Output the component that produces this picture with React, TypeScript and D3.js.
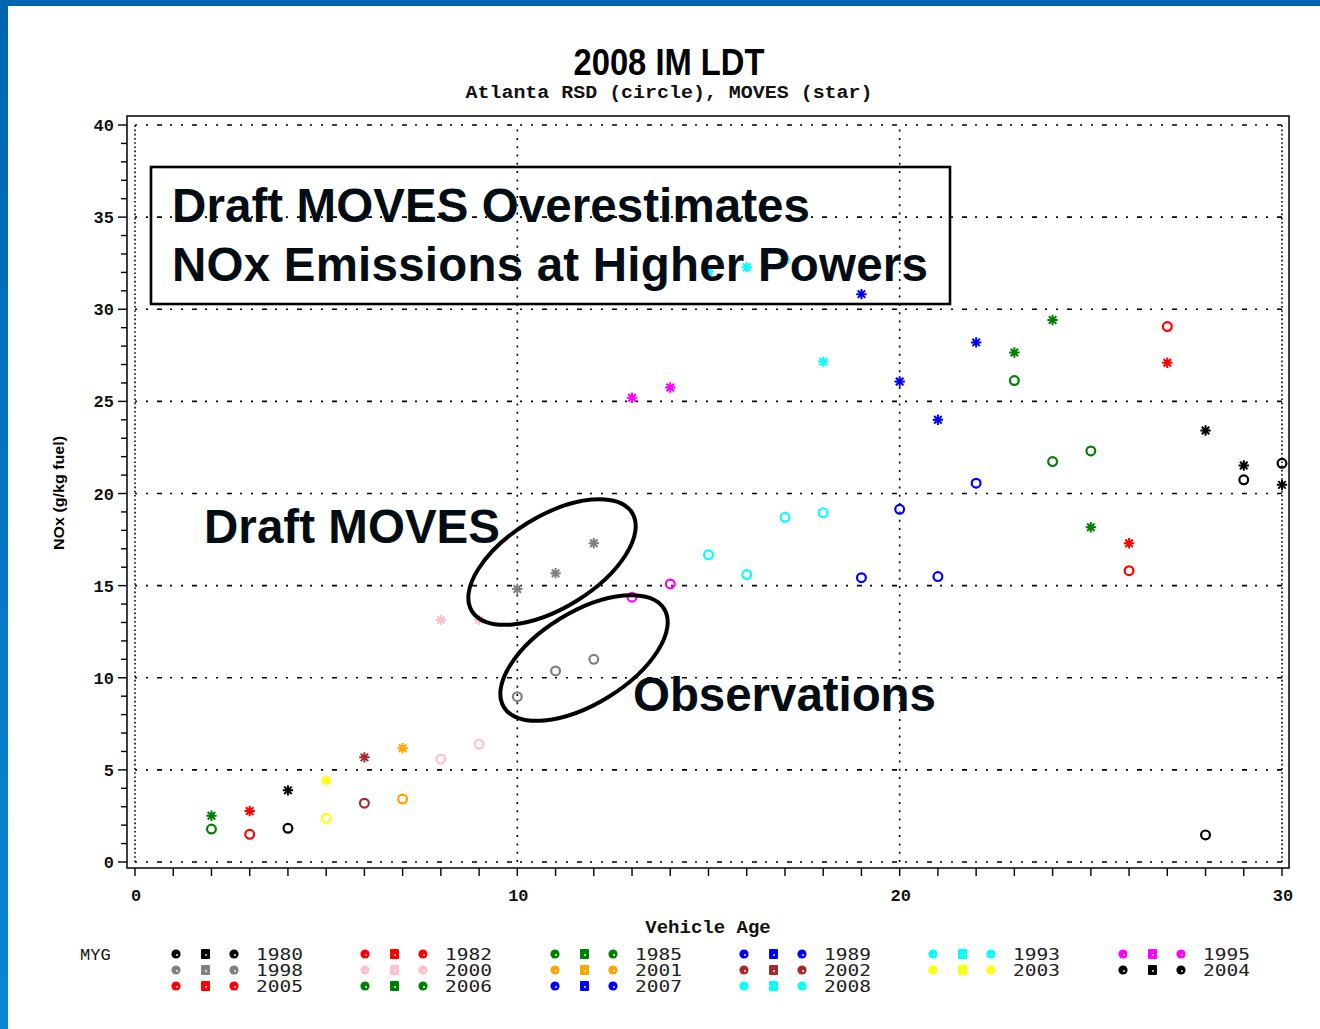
import React from 'react'
import * as d3 from 'd3'

// vehicle age (x)
const ages = [2, 3, 4, 5, 6, 7, 8, 9, 10, 11, 12, 13, 14, 15, 16, 17, 18, 19, 20, 21, 22, 23, 24, 25, 26, 27, 28, 29, 30]
// model year group of each age (2008 - age, grouped)
const ageGroups = [2006, 2005, 2004, 2003, 2002, 2001, 2000, 2000, 1998, 1998, 1998, 1995, 1995, 1993, 1993, 1993, 1993, 1989, 1989, 1989, 1989, 1985, 1985, 1985, 1982, 1982, 1980, 1980, 1980]
// Atlanta RSD (circle)
const rsdValues = [1.79, 1.5, 1.83, 2.37, 3.19, 3.42, 5.59, 6.39, 8.97, 10.37, 11.0, 14.37, 15.09, 16.67, 15.6, 18.71, 18.96, 15.43, 19.14, 15.49, 20.56, 26.13, 21.73, 22.31, 15.81, 29.06, 1.47, 20.74, 21.64]
// MOVES (star)
const movesValues = [2.51, 2.77, 3.89, 4.43, 5.68, 6.17, 13.14, 13.15, 14.82, 15.67, 17.3, 25.2, 25.75, 32.05, 32.28, 32.7, 27.16, 30.82, 26.08, 24.0, 28.2, 27.65, 29.42, 18.17, 17.3, 27.1, 23.42, 21.52, 20.47]

const legendGroups = [1980, 1982, 1985, 1989, 1993, 1995, 1998, 2000, 2001, 2002, 2003, 2004, 2005, 2006, 2007, 2008]
const groupColors: Record<number, string> = {
  1980: '#000000',
  1982: '#ff0000',
  1985: '#008000',
  1989: '#0000ff',
  1993: '#00ffff',
  1995: '#ff00ff',
  1998: '#808080',
  2000: '#ffc0cb',
  2001: '#ffa500',
  2002: '#a52a2a',
  2003: '#ffff00',
  2004: '#000000',
  2005: '#ff0000',
  2006: '#008000',
  2007: '#0000ff',
  2008: '#00ffff',
}

const xTicks = [0, 10, 20, 30]
const yTicks = [0, 5, 10, 15, 20, 25, 30, 35, 40]

const W = 1320
const H = 1029

const starPath = (cx: number, cy: number, r: number) => {
  const d = r * 0.72
  return `M${cx},${cy - r}L${cx},${cy + r}M${cx - r},${cy}L${cx + r},${cy}` +
    `M${cx - d},${cy - d}L${cx + d},${cy + d}M${cx - d},${cy + d}L${cx + d},${cy - d}`
}

export default function App() {
  const x = d3.scaleLinear().domain([0, 30]).range([135, 1282])
  const y = d3.scaleLinear().domain([0, 40]).range([862, 125])

  const frame = { left: 127, top: 116, right: 1289, bottom: 868 }
  const minorX = d3.range(0, 31)
  const minorY = d3.range(0, 41)

  const mono = '"Liberation Mono", "DejaVu Sans Mono", monospace'
  const sans = '"Liberation Sans", Arial, sans-serif'

  return (
    <svg width={W} height={H} style={{ position: 'absolute', left: 0, top: 0, background: '#fff' }}>
      <defs>
        <linearGradient id="sideBar" x1="0" y1="0" x2="0" y2="1">
          <stop offset="0" stopColor="#0064af" />
          <stop offset="1" stopColor="#0a86d8" />
        </linearGradient>
      </defs>
      <rect x={0} y={0} width={W} height={H} fill="#fff" />
      <rect x={0} y={0} width={W} height={6} fill="#0066b1" />
      <rect x={0} y={0} width={8} height={H} fill="url(#sideBar)" />

      {/* titles */}
      <text x={669} y={75} textAnchor="middle" fontFamily={sans} fontWeight="bold" fontSize={36}
        textLength={191} lengthAdjust="spacingAndGlyphs" fill="#000">2008 IM LDT</text>
      <text x={669} y={98} textAnchor="middle" fontFamily={mono} fontWeight="bold" fontSize={18}
        textLength={407} lengthAdjust="spacingAndGlyphs" fill="#111">Atlanta RSD (circle), MOVES (star)</text>

      {/* grid */}
      {yTicks.map((t) => (
        <line key={'gy' + t} x1={x(0)} x2={x(30)} y1={y(t)} y2={y(t)} stroke="#000" strokeWidth={1.6}
          strokeDasharray="2,9,2,9,5,8" />
      ))}
      {xTicks.map((t) => (
        <line key={'gx' + t} x1={x(t)} x2={x(t)} y1={y(0)} y2={y(40)} stroke="#000" strokeWidth={1.6}
          strokeDasharray={t === 0 || t === 30 ? '1.6,2.6' : '2,6.3'} />
      ))}

      {/* frame and axes */}
      <rect x={frame.left} y={frame.top} width={frame.right - frame.left} height={frame.bottom - frame.top}
        fill="none" stroke="#000" strokeWidth={1.5} />
      {minorY.map((t) => (
        <line key={'ty' + t} x1={frame.left - (t % 5 === 0 ? 9 : 6)} x2={frame.left} y1={y(t)} y2={y(t)}
          stroke="#000" strokeWidth={1.4} />
      ))}
      {minorX.map((t) => (
        <line key={'tx' + t} x1={x(t)} x2={x(t)} y1={frame.bottom} y2={frame.bottom + 8}
          stroke="#000" strokeWidth={1.4} />
      ))}
      {yTicks.map((t) => (
        <text key={'ly' + t} x={114} y={y(t) + 6} textAnchor="end" fontFamily={mono} fontWeight="bold"
          fontSize={17} fill="#111">{t}</text>
      ))}
      {xTicks.map((t) => (
        <text key={'lx' + t} x={x(t) + 1} y={901} textAnchor="middle" fontFamily={mono} fontWeight="bold"
          fontSize={17} fill="#111">{t}</text>
      ))}
      <text x={708} y={933} textAnchor="middle" fontFamily={mono} fontSize={19} fill="#111"
        fontWeight="bold">Vehicle Age</text>
      <text transform={`translate(64,493) rotate(-90)`} textAnchor="middle" fontFamily={sans}
        fontWeight="bold" fontSize={14} textLength={114} lengthAdjust="spacingAndGlyphs"
        fill="#000">NOx (g/kg fuel)</text>

      {/* data: MOVES stars */}
      {ages.map((a, i) => (
        <path key={'s' + a} d={starPath(x(a), y(movesValues[i]), 5.2)} stroke={groupColors[ageGroups[i]]}
          strokeWidth={2} fill="none" />
      ))}
      {/* data: RSD circles */}
      {ages.map((a, i) => (
        <circle key={'c' + a} cx={x(a)} cy={y(rsdValues[i])} r={4.4} stroke={groupColors[ageGroups[i]]}
          strokeWidth={2.2} fill="none" />
      ))}

      {/* annotations */}
      <rect x={151} y={167} width={799} height={137} fill="none" stroke="#000" strokeWidth={2.6} />
      <g fontFamily={sans} fontWeight="bold" fontSize={47.5} fill="#050d14" lengthAdjust="spacingAndGlyphs">
        <text x={172} y={222} textLength={638}>Draft MOVES Overestimates</text>
        <text x={172} y={281} textLength={756}>NOx Emissions at Higher Powers</text>
        <text x={204} y={543} textLength={296}>Draft MOVES</text>
        <text x={633} y={711} textLength={303}>Observations</text>
      </g>
      <ellipse cx={552} cy={562} rx={94} ry={46} transform="rotate(-31.5 552 562)" fill="none"
        stroke="#000" strokeWidth={4} />
      <ellipse cx={584} cy={658} rx={94} ry={46} transform="rotate(-31.5 584 658)" fill="none"
        stroke="#000" strokeWidth={4} />

      {/* legend */}
      <text x={80} y={960} fontFamily={mono} fontSize={17} fill="#111">MYG</text>
      {legendGroups.map((g, k) => {
        const col = k % 6
        const row = Math.floor(k / 6)
        const bx = [176, 365, 555, 744, 933, 1123][col]
        const cy = 954 + row * 16
        const c = groupColors[g]
        return (
          <g key={'lg' + g}>
            <circle cx={bx} cy={cy} r={4.6} fill={c} />
            <rect x={bx + 25} y={cy - 5} width={9} height={10} rx={1} fill={c} />
            <circle cx={bx + 58} cy={cy} r={4.6} fill={c} />
            <circle cx={bx + 1} cy={cy + 1} r={0.9} fill="#fff" />
            <circle cx={bx + 30} cy={cy + 1} r={0.9} fill="#fff" />
            <circle cx={bx + 59} cy={cy + 1} r={0.9} fill="#fff" />
            <text x={bx + 80} y={cy + 6} fontFamily={'"DejaVu Sans Mono", monospace'} fontSize={16.5}
              textLength={47} lengthAdjust="spacingAndGlyphs" fill="#222">{g}</text>
          </g>
        )
      })}
    </svg>
  )
}
